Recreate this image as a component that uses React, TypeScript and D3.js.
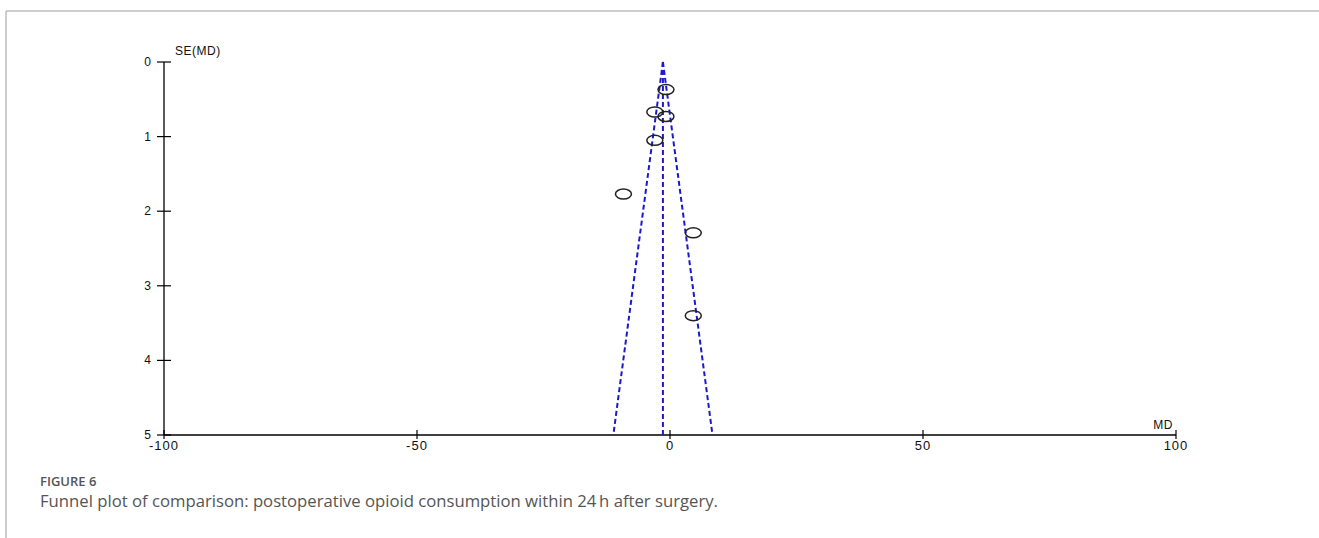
import React from "react";
import * as d3 from "d3";

const studyMD: number[] = [-0.8, -3.0, -0.8, -3.0, -9.2, 4.6, 4.6];
const studySE: number[] = [0.37, 0.67, 0.73, 1.05, 1.77, 2.29, 3.4];
const pooledMD = -1.4;
const xTicks: number[] = [-100, -50, 0, 50, 100];
const yTicks: number[] = [0, 1, 2, 3, 4, 5];
const xLabel = "MD";
const yLabel = "SE(MD)";
const figLabel = "FIGURE 6";
const caption = "Funnel plot of comparison: postoperative opioid consumption within 24\u2009h after surgery.";

export default function App() {
  const W = 1319, H = 538;
  const x = d3.scaleLinear().domain([-100, 100]).range([164, 1176]);
  const y = d3.scaleLinear().domain([0, 5]).range([62, 435]);
  const seMax = 5;
  const line = d3.line<[number, number]>().x(d => x(d[0])).y(d => y(d[1]));
  const leftFunnel = line([[pooledMD, 0], [pooledMD - 1.96 * seMax, seMax]]);
  const rightFunnel = line([[pooledMD, 0], [pooledMD + 1.96 * seMax, seMax]]);
  const center = line([[pooledMD, 0], [pooledMD, seMax]]);
  const axisFont = "Arial, 'Liberation Sans', sans-serif";
  const blue = "#1a1acc";
  return (
    <svg width={W} height={H} style={{ position: "absolute", left: 0, top: 0, background: "#fff" }}>
      <rect x={0} y={0} width={W} height={H} fill="#fff" />
      <line x1={6} y1={11} x2={W} y2={11} stroke="#bdbdbd" strokeWidth={1.5} />
      <line x1={6} y1={11} x2={6} y2={H} stroke="#bdbdbd" strokeWidth={1.5} />
      {/* axes */}
      <line x1={x(-100)} y1={y(0)} x2={x(-100)} y2={y(5)} stroke="#000" strokeWidth={1.3} />
      <line x1={x(-100)} y1={y(5)} x2={x(100)} y2={y(5)} stroke="#000" strokeWidth={1.3} />
      {yTicks.map(t => (
        <g key={"y" + t}>
          <line x1={x(-100) - 7} x2={x(-100) + 7} y1={y(t)} y2={y(t)} stroke="#000" strokeWidth={1.2} />
          <text x={x(-100) - 13} y={y(t) + 4} fontFamily={axisFont} fontSize={12} textAnchor="end" fill="#111">{t}</text>
        </g>
      ))}
      {xTicks.map(t => (
        <g key={"x" + t}>
          <line x1={x(t)} x2={x(t)} y1={y(5) - 5} y2={y(5) + 4} stroke="#000" strokeWidth={1.2} />
          <text x={x(t)} y={y(5) + 15} fontFamily={axisFont} fontSize={13} textAnchor="middle" fill="#111" letterSpacing={1}>{t}</text>
        </g>
      ))}
      <text x={x(-100) + 11} y={y(0) - 7} fontFamily={axisFont} fontSize={12} fill="#111" letterSpacing={0.5}>{yLabel}</text>
      <text x={x(100) - 3} y={y(5) - 6} fontFamily={axisFont} fontSize={12} fill="#111" textAnchor="end" letterSpacing={0.5}>{xLabel}</text>
      {/* funnel */}
      <path d={leftFunnel || ""} stroke={blue} strokeWidth={2} strokeDasharray="5,3" fill="none" />
      <path d={rightFunnel || ""} stroke={blue} strokeWidth={2} strokeDasharray="5,3" fill="none" />
      <path d={center || ""} stroke={blue} strokeWidth={2} strokeDasharray="5,3" fill="none" />
      {/* studies */}
      {studyMD.map((m, i) => (
        <ellipse key={i} cx={x(m)} cy={y(studySE[i])} rx={8} ry={5} fill="none" stroke="#222" strokeWidth={1.5} />
      ))}
      {/* caption */}
      <text x={40} y={486} fontFamily="'Open Sans', sans-serif" fontSize={13} fontWeight={600} fill="#555">{figLabel}</text>
      <text x={40} y={507} fontFamily="'Open Sans', sans-serif" fontSize={16.7} fill="#555">{caption}</text>
    </svg>
  );
}
